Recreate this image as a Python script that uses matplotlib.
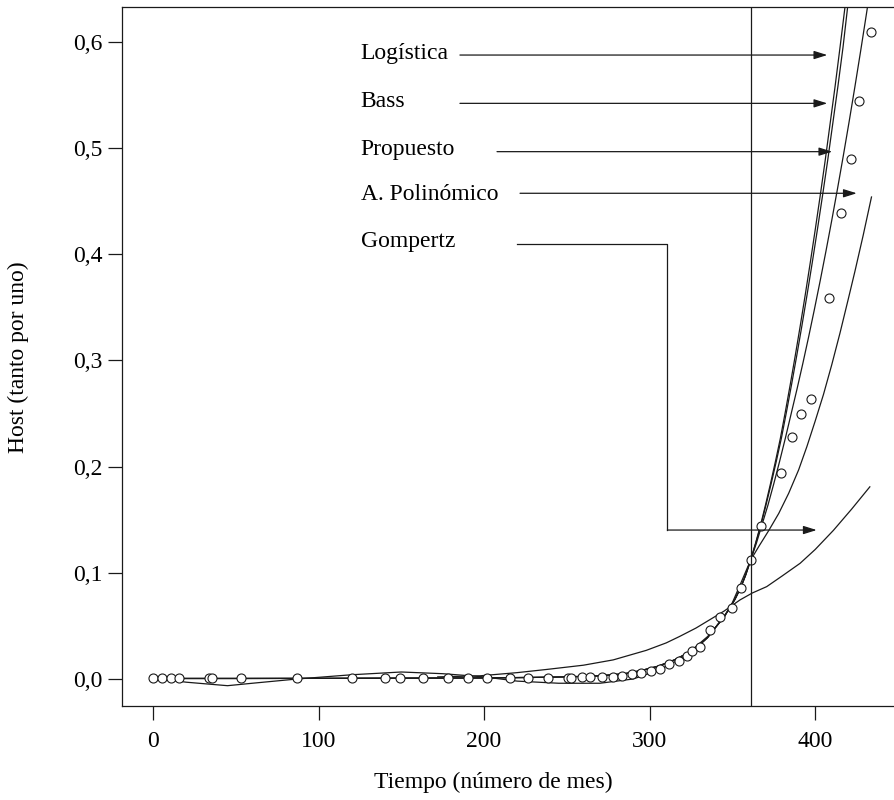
import numpy as np
import matplotlib
matplotlib.use('Agg')
import matplotlib.pyplot as plt

plt.rcParams['font.family'] = ['Liberation Serif', 'DejaVu Serif']
plt.rcParams['font.size'] = 17

# observed values (month, share)
obs_x = [0, 5.6, 11, 16, 34, 35.5, 53, 87, 120.5, 140, 149, 163, 178, 190, 202, 215.6,
         226.3, 238.6, 250.9, 252.3, 259, 264, 271, 277.7, 283.1, 289.2, 294.8, 300.6,
         306.4, 311.9, 317.7, 322.4, 325.8, 330.4, 336.5, 342.5, 349.6, 355.2, 361.2,
         367.3, 379.5, 385.8, 391.4, 397.3, 408.1, 415.8, 421.4, 426.5, 433.7]
obs_y = [0.0005] * 18 + [0.001, 0.001, 0.0015, 0.002, 0.002, 0.002, 0.003, 0.0044, 0.006,
         0.008, 0.0094, 0.0138, 0.017, 0.022, 0.026, 0.030, 0.046, 0.058, 0.067, 0.086,
         0.112, 0.144, 0.194, 0.228, 0.250, 0.264, 0.359, 0.439, 0.490, 0.544, 0.609]

# fitted curves (shared low part of the three steep fits)
low_x = [0, 50, 100, 150, 200, 230, 250, 270, 285, 295, 305, 315, 325, 330, 335, 338.5,
         342, 345, 348, 351.5, 355, 358]
low_y = [0.0005, 0.0005, 0.0006, 0.0008, 0.001, 0.0015, 0.002, 0.003, 0.005, 0.008, 0.012,
         0.018, 0.026, 0.032, 0.039, 0.046, 0.053, 0.059, 0.066, 0.075, 0.086, 0.098]

logis_x = low_x + [361, 364, 367, 370, 373, 376, 379, 382, 385, 388, 391, 394, 397, 400,
                   403, 406, 409, 412, 415, 418, 421, 424]
logis_y = low_y + [0.112, 0.128, 0.145, 0.164, 0.184, 0.205, 0.227, 0.252, 0.278, 0.305,
                   0.333, 0.362, 0.392, 0.423, 0.455, 0.488, 0.523, 0.558, 0.595, 0.633,
                   0.672, 0.712]

bass_x = low_x + [361, 364.1, 367.2, 370.3, 373.4, 376.5, 379.6, 382.7, 385.8, 388.9, 392,
                  395.1, 398.2, 401.3, 404.4, 407.5, 410.6, 413.7, 416.8, 419.6, 422.6, 425.6]
bass_y = low_y + [0.112, 0.128, 0.145, 0.164, 0.184, 0.205, 0.227, 0.252, 0.278, 0.305,
                  0.333, 0.362, 0.392, 0.423, 0.455, 0.488, 0.523, 0.558, 0.595, 0.633,
                  0.672, 0.712]

prop_x = low_x + [361, 364.5, 368, 371.5, 375, 378.5, 382, 385.5, 389, 392.5, 396, 399.5,
                  403, 406.5, 410, 413.5, 417, 420.5, 424, 427.5, 431, 434.5]
prop_y = low_y + [0.112, 0.128, 0.146, 0.164, 0.184, 0.205, 0.227, 0.25, 0.273, 0.297,
                  0.322, 0.348, 0.375, 0.403, 0.432, 0.462, 0.493, 0.525, 0.558, 0.592,
                  0.627, 0.663]

poly_x = [5, 20, 45, 60, 87, 120, 150, 175, 200, 220, 245, 270, 290, 305, 320, 335, 345,
          350, 355, 361, 366, 372, 378, 384, 390, 395, 400, 405, 410, 415, 420, 424, 429, 434]
poly_y = [0.0, -0.003, -0.0063, -0.004, 0.0, 0.004, 0.0066, 0.005, 0.002, -0.002, -0.004,
          -0.004, 0.0, 0.008, 0.02, 0.04, 0.058, 0.072, 0.090, 0.112, 0.125, 0.140, 0.156,
          0.175, 0.197, 0.219, 0.243, 0.268, 0.296, 0.326, 0.358, 0.384, 0.418, 0.454]

gomp_x = [172, 197.5, 220, 237.8, 260, 278, 298, 310, 318, 328, 336.5, 345, 354.6, 362,
          370.7, 380, 390.9, 400, 411, 422, 433]
gomp_y = [0.002, 0.003, 0.006, 0.009, 0.013, 0.018, 0.027, 0.034, 0.040, 0.048, 0.056,
          0.064, 0.0745, 0.081, 0.087, 0.097, 0.109, 0.122, 0.140, 0.160, 0.181]

labels = ['Logística', 'Bass', 'Propuesto', 'A. Polinómico', 'Gompertz']
label_y = [0.5837, 0.5385, 0.4935, 0.4512, 0.4072]
arrow_y = [0.5877, 0.5422, 0.4967, 0.4575, 0.4097]
arrow_x0 = [185.4, 185.4, 207.8, 221.7, 219.9]
arrow_x1 = [407.3, 407.3, 410.3, 425.1, 310.7]

fig = plt.figure(figsize=(8.94, 8.0), dpi=100)
ax = fig.add_axes([122 / 894, 94 / 800, 772 / 894, 698.5 / 800])

lc = '#1a1a1a'
lw = 0.9
for cx, cy in [(logis_x, logis_y), (bass_x, bass_y), (prop_x, prop_y),
               (poly_x, poly_y), (gomp_x, gomp_y)]:
    ax.plot(cx, cy, color=lc, lw=lw)
ax.plot(obs_x, obs_y, 'o', mfc='white', mec=lc, ms=6.5, mew=0.8)

ax.axvline(361, color=lc, lw=lw)

ap = dict(arrowstyle='-|>,head_length=0.8,head_width=0.25', color=lc, lw=lw,
          mutation_scale=10, shrinkA=0, shrinkB=0)
for i, lab in enumerate(labels):
    ax.text(125.5, label_y[i], lab, ha='left', va='baseline')
    if i < 4:
        ax.annotate('', xy=(arrow_x1[i], arrow_y[i]), xytext=(arrow_x0[i], arrow_y[i]),
                    arrowprops=ap)
# Gompertz pointer bends down to its curve
ax.plot([arrow_x0[4], arrow_x1[4], arrow_x1[4]], [arrow_y[4], arrow_y[4], 0.1403],
        color=lc, lw=lw)
ax.annotate('', xy=(400.9, 0.1403), xytext=(arrow_x1[4], 0.1403), arrowprops=ap)

ax.set_xlim(-18.73, 447.6)
ax.set_ylim(-0.02543, 0.63248)
ax.set_xticks([0, 100, 200, 300, 400])
ax.set_yticks([0.0, 0.1, 0.2, 0.3, 0.4, 0.5, 0.6])
ax.set_yticklabels(['0,0', '0,1', '0,2', '0,3', '0,4', '0,5', '0,6'])
ax.tick_params(axis='x', direction='out', length=10, width=0.9, pad=8, color=lc)
ax.tick_params(axis='y', direction='out', length=10, width=0.9, pad=4, color=lc)
ax.spines['right'].set_visible(False)
for s in ['left', 'top', 'bottom']:
    ax.spines[s].set_linewidth(0.9)
    ax.spines[s].set_color(lc)

fig.text(493 / 894, 1 - 782 / 800, 'Tiempo (número de mes)', ha='center', va='center')
fig.text(18 / 894, 1 - 357 / 800, 'Host (tanto por uno)', ha='center', va='center',
         rotation=90)

fig.savefig('out.png', dpi=100)
